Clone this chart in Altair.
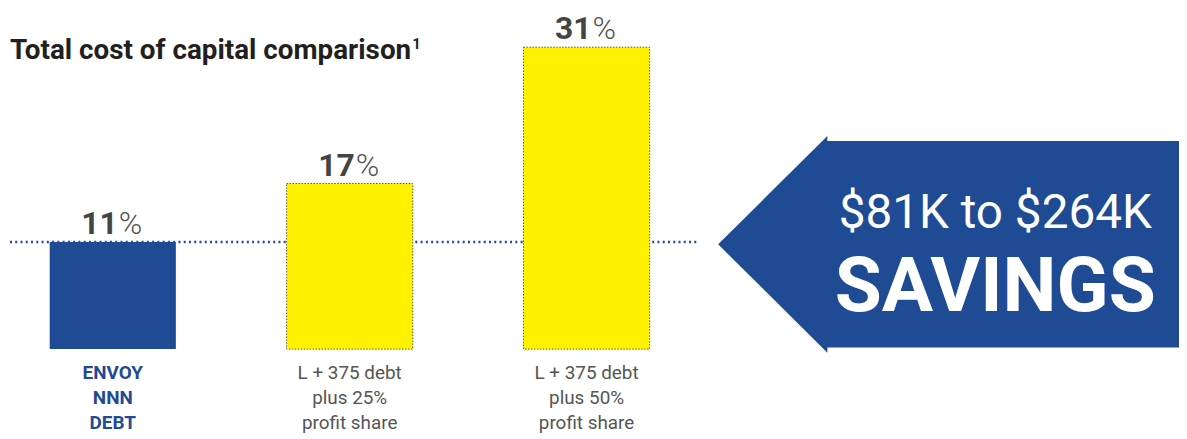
import altair as alt
import pandas as pd

# ---- data ----
categories = ["Envoy NNN debt", "L+375 debt, 25% profit share", "L+375 debt, 50% profit share"]
values = [11, 17, 31]
value_labels = ["11", "17", "31"]
label_lines = ["ENVOY\nNNN\nDEBT", "L + 375 debt\nplus 25%\nprofit share", "L + 375 debt\nplus 50%\nprofit share"]
bar_kind = ["envoy", "other", "other"]
title_text = ["Total cost of capital comparison"]
footnote_mark = ["1"]
savings_range = ["$81K to $264K"]
savings_word = ["SAVINGS"]
reference_value = [11]

BLUE = "#1F4A94"
YELLOW = "#FFF200"
FONT = "Roboto"

df = pd.DataFrame({
    "cat": categories,
    "value": values,
    "num": value_labels,
    "label": label_lines,
    "kind": bar_kind,
})

x = alt.X("cat:N", sort=categories, axis=None,
          scale=alt.Scale(range=[42, 646], paddingInner=0.4675, paddingOuter=0))
y = alt.Y("value:Q", axis=None,
          scale=alt.Scale(domain=[0, 31], range=[342, 38], nice=False, zero=True))

base = alt.Chart(df)

ref_line = alt.Chart(pd.DataFrame({"value": reference_value})).mark_rule(
    color=BLUE, strokeWidth=2.5, strokeDash=[2, 3.3]
).encode(y=y, x=alt.value(2), x2=alt.value(695))

blue_bar = base.transform_filter(alt.datum.kind == "envoy").mark_bar(
    color=BLUE, strokeWidth=0
).encode(x=x, y=y)

yellow_bar = base.transform_filter(alt.datum.kind == "other").mark_bar(
    color=YELLOW, stroke="#555555", strokeWidth=1, strokeDash=[1.5, 1.5]
).encode(x=x, y=y)

num_text = base.mark_text(
    align="right", baseline="alphabetic", dx=5, dy=-8, fontSize=32,
    fontWeight="bold", font=FONT, color="#444444"
).encode(x=x, y=y, text="num:N")

pct_text = base.mark_text(
    align="left", baseline="alphabetic", dx=6, dy=-8, fontSize=32,
    fontWeight=300, font=FONT, color="#555555", text="%"
).encode(x=x, y=y)

envoy_label = base.transform_filter(alt.datum.kind == "envoy").mark_text(
    align="center", baseline="alphabetic", lineBreak="\n", lineHeight=25,
    fontSize=19, fontWeight="bold", font=FONT, color=BLUE
).encode(x=x, y=alt.value(372), text="label:N")

other_label = base.transform_filter(alt.datum.kind == "other").mark_text(
    align="center", baseline="alphabetic", lineBreak="\n", lineHeight=25,
    fontSize=19, font=FONT, color="#555555"
).encode(x=x, y=alt.value(372), text="label:N")

title = alt.Chart(pd.DataFrame({"t": title_text})).mark_text(
    align="left", baseline="alphabetic", fontSize=28, fontWeight="bold",
    font=FONT, color="#231F20"
).encode(x=alt.value(2), y=alt.value(50), text="t:N")

sup = alt.Chart(pd.DataFrame({"t": footnote_mark})).mark_text(
    align="left", baseline="alphabetic", fontSize=15, fontWeight="bold",
    font=FONT, color="#231F20"
).encode(x=alt.value(407), y=alt.value(40), text="t:N")

arrow_path = ("M-1,0 L-0.526,-0.47 L-0.526,-0.448 L1,-0.448 L1,0.448 "
              "L-0.526,0.448 L-0.526,0.47 Z")
arrow = alt.Chart(pd.DataFrame({"a": [0]})).mark_point(
    shape=arrow_path, filled=True, size=464 * 464, color=BLUE, opacity=1, strokeWidth=0
).encode(x=alt.value(947), y=alt.value(236.5))

sav1 = alt.Chart(pd.DataFrame({"t": savings_range})).mark_text(
    align="center", baseline="alphabetic", fontSize=48, font=FONT, color="white"
).encode(x=alt.value(994), y=alt.value(220), text="t:N")

sav2 = alt.Chart(pd.DataFrame({"t": savings_word})).mark_text(
    align="center", baseline="alphabetic", fontSize=77, fontWeight="bold",
    font=FONT, color="white"
).encode(x=alt.value(994), y=alt.value(304), text="t:N")

chart = alt.layer(
    ref_line, blue_bar, yellow_bar, num_text, pct_text, envoy_label, other_label,
    title, sup, arrow, sav1, sav2
).properties(width=1171, height=423, padding=0).configure_view(stroke=None)

chart.save("out.html", embed_options={"renderer": "svg", "actions": False})
